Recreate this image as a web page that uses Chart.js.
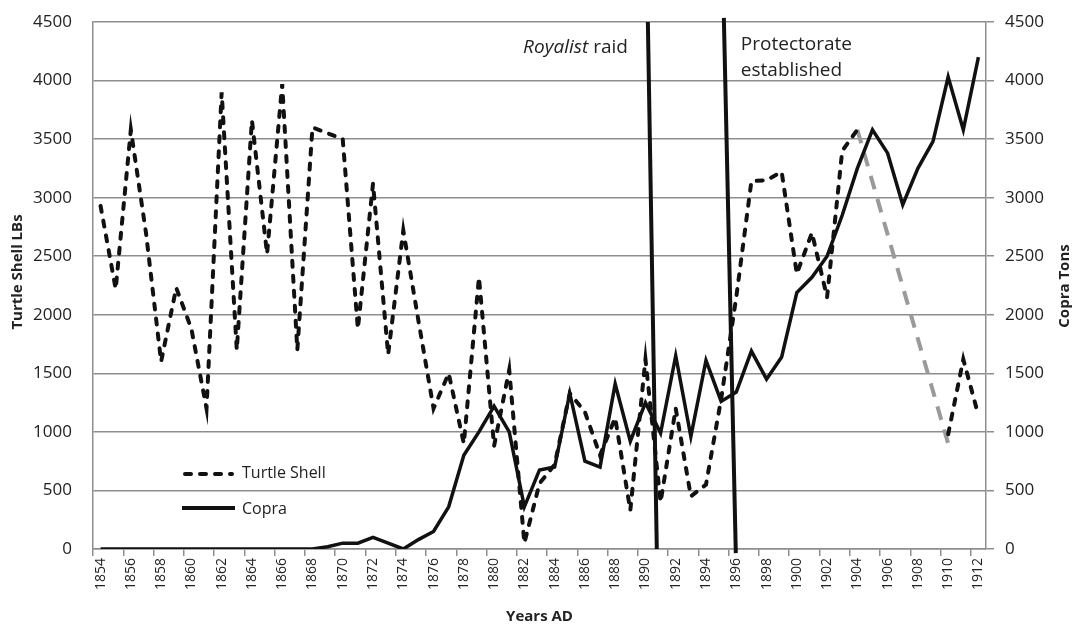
<!DOCTYPE html>
<html>
<head>
<meta charset="utf-8">
<script src="https://cdn.jsdelivr.net/npm/chart.js@4/dist/chart.umd.min.js"></script>
<style>
  body { margin: 0; background: #fff; }
  canvas { display: block; }
</style>
</head>
<body>
<canvas id="chart1" width="1073" height="629"></canvas>
<script>
// jaar 1854 - 1912
const years = Array.from({ length: 59 }, (v, i) => String(1854 + i));

// Turtle shell, LBs (1905-1909 missing)
const turtleShell = [
  2930, 2220, 3580, 2700, 1600, 2230, 1880, 1200, 3900, 1700,
  3660, 2520, 3970, 1700, 3600, 3550, 3500, 1880, 3120, 1660,
  2720, 1950, 1200, 1500, 900, 2320, 880, 1530, 50, 560,
  720, 1330, 1170, 800, 1120, 330, 1620, 400, 1200, 450,
  550, 1280, 2150, 3140, 3150, 3220, 2350, 2700, 2150, 3400,
  3580, null, null, null, null, null, 980, 1620, 1140
];

// grey dashed bridge over the missing years
const turtleGap = [
  null, null, null, null, null, null, null, null, null, null,
  null, null, null, null, null, null, null, null, null, null,
  null, null, null, null, null, null, null, null, null, null,
  null, null, null, null, null, null, null, null, null, null,
  null, null, null, null, null, null, null, null, null, null,
  3580, null, null, null, null, null, 900, null, null
];

// Copra, tons
const copra = [
  0, 0, 0, 0, 0, 0, 0, 0, 0, 0,
  0, 0, 0, 0, 0, 20, 50, 50, 100, 50,
  0, 80, 150, 360, 800, 1000, 1220, 1000, 360, 675,
  700, 1330, 750, 700, 1410, 920, 1250, 990, 1650, 960,
  1610, 1260, 1340, 1690, 1450, 1640, 2190, 2320, 2500, 2850,
  3250, 3580, 3380, 2940, 3250, 3480, 4030, 3580, 4200
];

// vertical event lines (year, value) top -> bottom
const raidLine = [{ x: 1890.16, y: 4500 }, { x: 1890.75, y: 0 }];
const protectorateLine = [{ x: 1895.18, y: 4535 }, { x: 1895.97, y: -35 }];

const yTicks = [0, 500, 1000, 1500, 2000, 2500, 3000, 3500, 4000, 4500];

const FONT = '"Open Sans", "Liberation Sans", sans-serif';
const GRID = '#8e8e8e';
const INK = '#111';

// tekst, legend en akse-titler
const extras = {
  id: 'extras',
  afterDraw(chart) {
    const ctx = chart.ctx;
    const a = chart.chartArea;
    const xe = chart.scales.xe;
    ctx.save();
    ctx.fillStyle = '#222';
    ctx.textBaseline = 'middle';

    // annotations
    ctx.font = '19px ' + FONT;
    const rx = xe.getPixelForValue(1890.16) - 20;
    const rw = ctx.measureText(' raid').width;
    ctx.textAlign = 'right';
    ctx.fillText(' raid', rx, a.top + 26);
    ctx.font = 'italic 19px ' + FONT;
    ctx.fillText('Royalist', rx - rw, a.top + 26);
    ctx.font = '19px ' + FONT;
    ctx.textAlign = 'left';
    const px = xe.getPixelForValue(1895.18) + 17;
    ctx.fillText('Protectorate', px, a.top + 23);
    ctx.fillText('established', px, a.top + 49);

    // legend
    ctx.font = '16px ' + FONT;
    ctx.lineWidth = 4;
    ctx.strokeStyle = INK;
    ctx.setLineDash([6, 9]);
    ctx.lineCap = 'round';
    ctx.beginPath(); ctx.moveTo(185, 474); ctx.lineTo(232, 474); ctx.stroke();
    ctx.setLineDash([]);
    ctx.lineCap = 'butt';
    ctx.beginPath(); ctx.moveTo(182, 508); ctx.lineTo(235, 508); ctx.stroke();
    ctx.fillText('Turtle Shell', 242, 473);
    ctx.fillText('Copra', 242, 509);

    // axis titles
    ctx.font = 'bold 15px ' + FONT;
    ctx.textAlign = 'center';
    ctx.fillText('Years AD', (a.left + a.right) / 2, 617);
    ctx.translate(18, 272);
    ctx.rotate(-Math.PI / 2);
    ctx.fillText('Turtle Shell LBs', 0, 0);
    ctx.setTransform(1, 0, 0, 1, 0, 0);
    ctx.translate(1065, 286);
    ctx.rotate(-Math.PI / 2);
    ctx.fillText('Copra Tons', 0, 0);
    ctx.restore();
  }
};

const ctx = document.querySelector('#chart1').getContext('2d');
const chart = new Chart(ctx, {
  type: 'line',
  data: {
    labels: years,
    datasets: [
      {
        label: 'Royalist raid', data: raidLine, xAxisID: 'xe', yAxisID: 'y',
        borderColor: INK, borderWidth: 4, pointRadius: 0, order: 0, clip: false
      },
      {
        label: 'Protectorate established', data: protectorateLine, xAxisID: 'xe', yAxisID: 'y',
        borderColor: INK, borderWidth: 4, pointRadius: 0, order: 0, clip: false
      },
      {
        label: 'Copra', data: copra, yAxisID: 'y2',
        borderColor: INK, borderWidth: 3.5, pointRadius: 0, order: 1,
        borderJoinStyle: 'miter'
      },
      {
        label: 'Turtle Shell', data: turtleShell, yAxisID: 'y',
        borderColor: INK, borderWidth: 4, borderDash: [6, 9], borderCapStyle: 'round',
        pointRadius: 0, order: 2
      },
      {
        label: 'gap', data: turtleGap, yAxisID: 'y', spanGaps: true,
        borderColor: '#9a9a9a', borderWidth: 4, borderDash: [14, 10],
        pointRadius: 0, order: 3
      }
    ]
  },
  options: {
    responsive: false,
    animation: false,
    layout: { padding: { top: 22, left: 0, right: 0, bottom: 0 } },
    plugins: { legend: { display: false }, tooltip: { enabled: false } },
    scales: {
      x: {
        type: 'category',
        offset: true,
        grid: {
          offset: true,
          drawOnChartArea: false,
          tickLength: 7,
          lineWidth: 1.5,
          tickColor: (c) => (c.index % 2 === 0 ? GRID : 'rgba(0,0,0,0)')
        },
        border: { color: GRID, width: 1.5 },
        ticks: {
          autoSkip: false,
          minRotation: 90,
          maxRotation: 90,
          padding: 2,
          color: '#222',
          font: { family: FONT, size: 14 },
          callback: function (v, i) { return i % 2 === 0 ? years[i] : ''; }
        },
        afterFit: (s) => { s.height = 80; }
      },
      xe: {
        type: 'linear',
        display: false,
        min: 1853.5,
        max: 1912.5
      },
      y: {
        position: 'left',
        min: 0, max: 4500,
        afterBuildTicks: (s) => { s.ticks = yTicks.map(v => ({ value: v })); },
        grid: { color: GRID, lineWidth: 1.5, drawTicks: false },
        border: { color: GRID, width: 1.5 },
        ticks: {
          padding: 21, color: '#222', font: { family: FONT, size: 17 },
          callback: (v) => String(v)
        },
        afterFit: (s) => { s.width = 93; s.paddingTop = 8; s.paddingBottom = 8; }
      },
      y2: {
        position: 'right',
        min: 0, max: 4500,
        afterBuildTicks: (s) => { s.ticks = yTicks.map(v => ({ value: v })); },
        grid: { drawOnChartArea: false, tickLength: 8, tickColor: GRID, lineWidth: 1.5 },
        border: { color: GRID, width: 1.5 },
        ticks: {
          padding: 11, color: '#222', font: { family: FONT, size: 17 },
          callback: (v) => String(v)
        },
        afterFit: (s) => { s.width = 87; s.paddingTop = 8; s.paddingBottom = 8; }
      }
    }
  },
  plugins: [extras]
});
</script>
</body>
</html>
